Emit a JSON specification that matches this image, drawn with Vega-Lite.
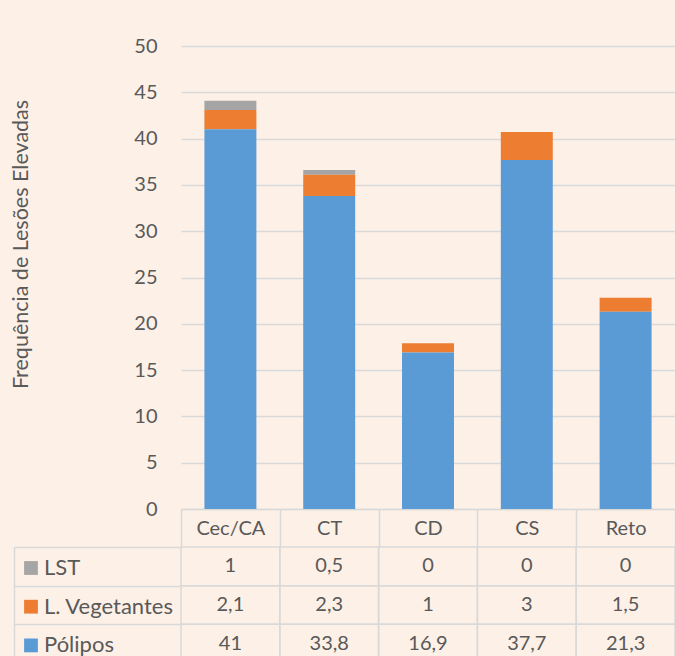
{
  "$schema": "https://vega.github.io/schema/vega-lite/v6.json",
  "width": 494,
  "height": 610,
  "autosize": {"type": "none"},
  "padding": {"left": 181, "top": 46, "right": 0, "bottom": 0},
  "background": "#fdf0e7",
  "config": {
    "view": {"stroke": null},
    "font": "Lato",
    "locale": {"number": {"decimal": ",", "thousands": ".", "grouping": [3], "currency": ["", ""]}},
    "axis": {"labelFont": "Lato", "labelFontSize": 20, "labelColor": "#595959", "titleFont": "Lato"},
    "legend": {"labelFont": "Lato"}
  },
  "data": {
    "values": [
      {"local": "Cec/CA", "serie": "LST", "valor": 1},
      {"local": "CT", "serie": "LST", "valor": 0.5},
      {"local": "CD", "serie": "LST", "valor": 0},
      {"local": "CS", "serie": "LST", "valor": 0},
      {"local": "Reto", "serie": "LST", "valor": 0},
      {"local": "Cec/CA", "serie": "L. Vegetantes", "valor": 2.1},
      {"local": "CT", "serie": "L. Vegetantes", "valor": 2.3},
      {"local": "CD", "serie": "L. Vegetantes", "valor": 1},
      {"local": "CS", "serie": "L. Vegetantes", "valor": 3},
      {"local": "Reto", "serie": "L. Vegetantes", "valor": 1.5},
      {"local": "Cec/CA", "serie": "Pólipos", "valor": 41},
      {"local": "CT", "serie": "Pólipos", "valor": 33.8},
      {"local": "CD", "serie": "Pólipos", "valor": 16.9},
      {"local": "CS", "serie": "Pólipos", "valor": 37.7},
      {"local": "Reto", "serie": "Pólipos", "valor": 21.3}
    ]
  },
  "transform": [
    {"calculate": "indexof(['Pólipos','L. Vegetantes','LST'], datum.serie)", "as": "ordem"}
  ],
  "encoding": {
    "x": {
      "field": "local",
      "type": "nominal",
      "sort": ["Cec/CA", "CT", "CD", "CS", "Reto"],
      "scale": {"paddingInner": 0, "paddingOuter": 0},
      "axis": {
        "orient": "bottom",
        "offset": -147,
        "domain": true,
        "domainColor": "#d9d9d9",
        "domainWidth": 1.5,
        "ticks": true,
        "tickBand": "extent",
        "tickSize": 38,
        "tickColor": "#d9d9d9",
        "tickWidth": 1.5,
        "labelAngle": 0,
        "labelPadding": -19,
        "labelBaseline": "middle",
        "labelFontSize": 20,
        "labelColor": "#595959",
        "grid": false,
        "title": null
      }
    }
  },
  "layer": [
    {
      "mark": {"type": "bar", "width": {"band": 0.526}},
      "encoding": {
        "y": {
          "field": "valor",
          "type": "quantitative",
          "stack": "zero",
          "scale": {"domain": [0, 50], "range": [463, 0], "nice": false},
          "axis": {
            "orient": "left",
            "values": [0, 5, 10, 15, 20, 25, 30, 35, 40, 45, 50],
            "domain": false,
            "ticks": false,
            "grid": true,
            "gridColor": "#d9d9d9",
            "gridWidth": 1.5,
            "labelPadding": 24,
            "labelFontSize": 20,
            "labelColor": "#595959",
            "title": "Frequência de Lesões Elevadas",
            "titleFontSize": 21.5,
            "titleFontWeight": "normal",
            "titleColor": "#595959",
            "titleAngle": 270,
            "titleAlign": "center",
            "titleBaseline": "alphabetic",
            "titleX": -154,
            "titleY": 198
          }
        },
        "color": {
          "field": "serie",
          "type": "nominal",
          "scale": {
            "domain": ["LST", "L. Vegetantes", "Pólipos"],
            "range": ["#a5a5a5", "#ed7d31", "#5b9bd5"]
          },
          "legend": {
            "orient": "none",
            "legendX": -161,
            "legendY": 511,
            "title": null,
            "values": ["LST", "L. Vegetantes", "Pólipos"],
            "symbolType": "square",
            "symbolSize": 190,
            "symbolStrokeWidth": 0,
            "symbolOpacity": 1,
            "labelFontSize": 22,
            "labelColor": "#595959",
            "labelOffset": 2,
            "rowPadding": 16.7,
            "padding": 0
          }
        },
        "order": {"field": "ordem", "type": "quantitative"}
      }
    },
    {
      "encoding": {
        "y": {
          "field": "serie",
          "type": "nominal",
          "sort": ["LST", "L. Vegetantes", "Pólipos"],
          "scale": {
            "domain": ["LST", "L. Vegetantes", "Pólipos"],
            "range": [501, 617],
            "paddingInner": 0,
            "paddingOuter": 0
          },
          "axis": {
            "orient": "left",
            "offset": 167,
            "domain": true,
            "domainColor": "#d9d9d9",
            "domainWidth": 1.5,
            "ticks": true,
            "tickBand": "extent",
            "tickSize": -167,
            "tickColor": "#d9d9d9",
            "tickWidth": 1.5,
            "labels": false,
            "grid": false,
            "title": null
          }
        }
      },
      "layer": [
        {"mark": {"type": "rect", "fill": "transparent", "stroke": "#d9d9d9", "strokeWidth": 1.5}},
        {
          "mark": {"type": "text", "fontSize": 20, "color": "#595959", "baseline": "middle"},
          "encoding": {"text": {"field": "valor", "type": "quantitative", "format": "~g"}}
        }
      ]
    }
  ],
  "resolve": {"scale": {"y": "independent"}}
}
